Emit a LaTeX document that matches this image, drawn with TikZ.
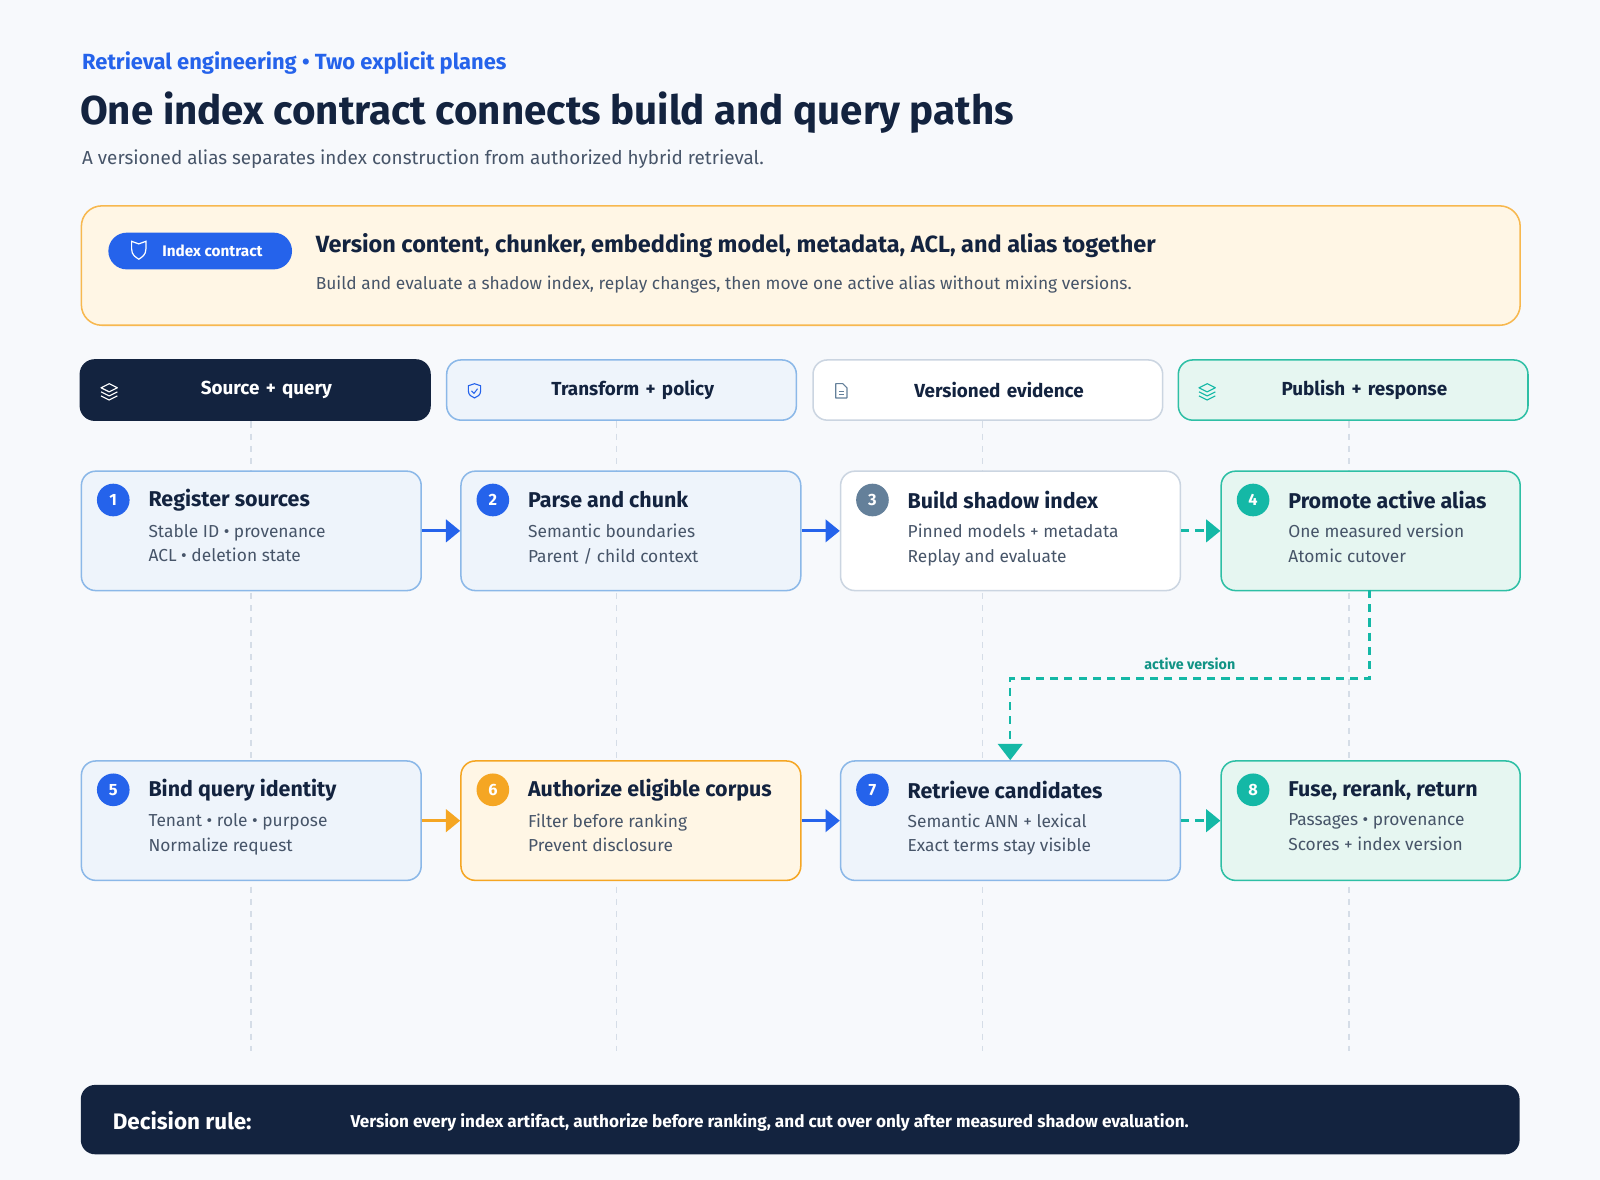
\documentclass[tikz,border=0pt]{standalone}
\usepackage{fontspec}
\setmainfont{Fira Sans}
\usetikzlibrary{arrows.meta}
\definecolor{navy}{HTML}{13233F}
\definecolor{blu}{HTML}{2563EB}
\definecolor{gr}{HTML}{475569}
\definecolor{bfill}{HTML}{EEF4FB}
\definecolor{bbord}{HTML}{8BB8E8}
\definecolor{sbord}{HTML}{CBD5E1}
\definecolor{tfill}{HTML}{E6F6F1}
\definecolor{tbord}{HTML}{2EBFA5}
\definecolor{teal}{HTML}{14B8A6}
\definecolor{ofill}{HTML}{FFF6E5}
\definecolor{obord}{HTML}{F5A623}
\definecolor{slate}{HTML}{64809A}
\definecolor{bg}{HTML}{F7F9FC}
\begin{document}
\begin{tikzpicture}[x=1pt,y=-1pt,
 box/.style={draw,line width=1.5pt,rounded corners=14pt,minimum width=#1,minimum height=117pt,anchor=north west,inner sep=0pt},
 lane/.style={draw,line width=1.5pt,rounded corners=14pt,minimum width=336pt,minimum height=59pt,anchor=north west,font=\fontsize{18.5}{22}\selectfont\bfseries,text width=336pt,align=center},
 num/.style={circle,minimum size=32pt,inner sep=0pt,text=white,font=\fontsize{16}{18}\selectfont\bfseries},
 ttl/.style={anchor=west,text=navy,font=\fontsize{21}{24}\selectfont\bfseries},
 sub/.style={anchor=west,text=gr,font=\fontsize{17}{20}\selectfont},
 arr/.style={line width=3pt,-{Triangle[length=14pt,width=22pt]}},
 vdash/.style={draw=sbord!80,line width=1.2pt,dash pattern=on 6pt off 6pt}]
\fill[bg] (0,0) rectangle (1568,1156);
\useasboundingbox (0,0) rectangle (1568,1156);
\node[anchor=west,text=blu,font=\fontsize{21.5}{24}\selectfont\bfseries] (kick) at (77,62) {Retrieval engineering • Two explicit planes};
\node[anchor=west,text=navy,font=\fontsize{39.5}{44}\selectfont\bfseries] (title) at (75,110) {One index contract connects build and query paths};
\node[anchor=west,text=gr,font=\fontsize{18.5}{22}\selectfont] (desc) at (77,156) {A versioned alias separates index construction from authorized hybrid retrieval.};
% contract
\node[draw=obord!80,fill=ofill,line width=1.5pt,rounded corners=20pt,minimum width=1410pt,minimum height=117pt,anchor=north west] (contract) at (79,201) {};
\node[fill=blu,rounded corners=18pt,minimum width=180pt,minimum height=36pt,anchor=west,text=white,font=\fontsize{15}{17}\selectfont\bfseries] (pill) at (106,246) {\hspace{24pt}Index contract};
\draw[white,line width=1.2pt] (136,239) -- (143,236.5) -- (143,244) .. controls (143,250) and (139,252) .. (136,254) .. controls (133,252) and (129,250) .. (129,244) -- (129,236.5) -- cycle;
\node[ttl,font=\fontsize{23}{26}\selectfont\bfseries] (ch) at (306,241) {Version content, chunker, embedding model, metadata, ACL, and alias together};
\node[sub,font=\fontsize{17}{20}\selectfont] (cs) at (306,279) {Build and evaluate a shadow index, replay changes, then move one active alias without mixing versions.};
% dashed lanes
\foreach \x in {246,604,963,1322} \draw[vdash] (\x,413) -- (\x,1030);
% lane headers
\node[lane,fill=navy,draw=navy,text=white] (l1) at (78,352) {\hspace{22pt}Source + query};
\node[lane,fill=bfill,draw=bbord,text=navy] (l2) at (437,352) {\hspace{22pt}Transform + policy};
\node[lane,fill=white,draw=sbord,text=navy] (l3) at (796,352) {\hspace{22pt}Versioned evidence};
\node[lane,fill=tfill,draw=tbord,text=navy] (l4) at (1154,352) {\hspace{22pt}Publish + response};
% icons
\foreach \x/\c in {107/white,1183/teal}{
 \draw[\c,line width=1.1pt,line join=round] (\x,376)--(\x+8,380)--(\x,384)--(\x-8,380)--cycle;
 \draw[\c,line width=1.1pt,line join=round] (\x-8,384)--(\x,388)--(\x+8,384);
 \draw[\c,line width=1.1pt,line join=round] (\x-8,388)--(\x,392)--(\x+8,388);}
\draw[blu,line width=1.1pt] (465,376) -- (471,378) -- (471,383) .. controls (471,387) and (468,389) .. (465,390) .. controls (462,389) and (459,387) .. (459,383) -- (459,378) -- cycle;
\draw[blu,line width=1pt] (462,383)--(464.5,385.5)--(468,381);
\draw[slate,line width=1.1pt,line join=round] (819,376)--(826,376)--(830,380)--(830,390)--(819,390)--cycle;
\draw[slate,line width=0.9pt] (822,384)--(827,384) (822,387)--(827,387);
% boxes
\newcommand{\stepbox}[9]{%
 \node[box=#2,fill=#4,draw=#5] (#1) at (#3) {};
 \node[num,fill=#6] (#1n) at ([xshift=32pt,yshift=-29pt]#1.north west) {#7};
 \node[ttl] (#1t) at ([xshift=63pt,yshift=-29pt]#1.north west) {#8};
 \node[sub,align=left,anchor=north west] (#1s) at ([xshift=63pt,yshift=-49pt]#1.north west) {#9};}
\stepbox{b1}{333pt}{79,461}{bfill}{bbord}{blu}{1}{Register sources}{Stable ID • provenance\\[4pt]ACL • deletion state}
\stepbox{b2}{333pt}{451,461}{bfill}{bbord}{blu}{2}{Parse and chunk}{Semantic boundaries\\[4pt]Parent / child context}
\stepbox{b3}{333pt}{823,461}{white}{sbord}{slate}{3}{Build shadow index}{Pinned models + metadata\\[4pt]Replay and evaluate}
\stepbox{b4}{293pt}{1196,461}{tfill}{tbord}{teal}{4}{Promote active alias}{One measured version\\[4pt]Atomic cutover}
\stepbox{b5}{333pt}{79,745}{bfill}{bbord}{blu}{5}{Bind query identity}{Tenant • role • purpose\\[4pt]Normalize request}
\stepbox{b6}{333pt}{451,745}{ofill}{obord}{obord}{6}{Authorize eligible corpus}{Filter before ranking\\[4pt]Prevent disclosure}
\stepbox{b7}{333pt}{823,745}{bfill}{bbord}{blu}{7}{Retrieve candidates}{Semantic ANN + lexical\\[4pt]Exact terms stay visible}
\stepbox{b8}{293pt}{1196,745}{tfill}{tbord}{teal}{8}{Fuse, rerank, return}{Passages • provenance\\[4pt]Scores + index version}
% arrows
\draw[arr,blu] (b1.east) -- (b2.west);
\draw[arr,blu] (b2.east) -- (b3.west);
\draw[arr,teal,dash pattern=on 8pt off 6pt] (b3.east) -- (b4.west);
\draw[arr,obord] (b5.east) -- (b6.west);
\draw[arr,blu] (b6.east) -- (b7.west);
\draw[arr,teal,dash pattern=on 8pt off 6pt] (b7.east) -- (b8.west);
\coordinate (a1) at (1342,578);
\coordinate (a2) at (990,745);
\draw[teal,line width=2.5pt,dash pattern=on 8pt off 6pt,-{Triangle[length=16pt,width=24pt]}] (a1) |- (990,665) -- (a2);
\node[text=teal!80!black,font=\fontsize{14}{16}\selectfont\bfseries] (av) at (1166,651) {active version};
% bottom bar
\node[fill=navy,rounded corners=14pt,minimum width=1410pt,minimum height=68pt,anchor=north west] (bar) at (79,1063) {};
\node[anchor=west,text=white,font=\fontsize{22}{25}\selectfont\bfseries] (dr) at (107,1098) {Decision rule:};
\node[anchor=west,text=white,font=\fontsize{16.8}{19}\selectfont\bfseries] (drt) at (340,1100) {Version every index artifact, authorize before ranking, and cut over only after measured shadow evaluation.};
\end{tikzpicture}
\end{document}
